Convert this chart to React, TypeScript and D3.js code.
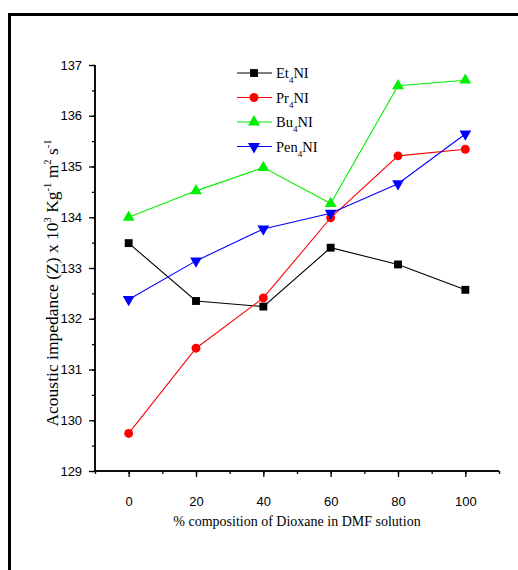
import { useRef, useEffect } from 'react'
import * as d3 from 'd3'

const composition = [0, 20, 40, 60, 80, 100]
const et4ni = [133.49, 132.35, 132.24, 133.4, 133.07, 132.57]
const pr4ni = [129.74, 131.42, 132.41, 133.99, 135.21, 135.34]
const bu4ni = [134.0, 134.52, 134.98, 134.27, 136.59, 136.7]
const pen4ni = [132.38, 133.14, 133.77, 134.08, 134.66, 135.64]
const xTicks = [0, 20, 40, 60, 80, 100]
const yTicks = [129, 130, 131, 132, 133, 134, 135, 136, 137]

const series = [
  { name: 'Et', values: et4ni, color: '#000000', symbol: d3.symbolSquare },
  { name: 'Pr', values: pr4ni, color: '#ff0000', symbol: d3.symbolCircle },
  { name: 'Bu', values: bu4ni, color: '#00f000', symbol: d3.symbolTriangle },
  { name: 'Pen', values: pen4ni, color: '#0000ff', symbol: 'down' },
]

function Chart() {
  const svgRef = useRef<SVGSVGElement>(null)

  useEffect(() => {
    const w = 518
    const h = 570
    const svg = d3.select(svgRef.current).attr('width', w).attr('height', h)
    svg.selectAll('*').remove()

    // page frame
    svg.append('path')
      .attr('d', `M9.5,${h} V14.5 H${w}`)
      .attr('fill', 'none')
      .attr('stroke', '#000')
      .attr('stroke-width', 3)

    const x = d3.scaleLinear().domain([-10, 110]).range([95, 499])
    const y = d3.scaleLinear().domain([129, 137]).range([471, 65])

    const tickFont = '"Liberation Sans", Arial, sans-serif'

    // x axis
    const gx = svg.append('g').attr('transform', 'translate(0,471)')
    gx.call(d3.axisBottom(x).tickValues(d3.range(-10, 111, 10)).tickSize(3).tickFormat(() => ''))
    gx.append('g').call(d3.axisBottom(x).tickValues(xTicks).tickSize(6).tickFormat(d3.format('d')))
    gx.selectAll('.domain').attr('stroke-width', 1.5).attr('d', `M${x(-10)},0H${x(110)}`)
    gx.selectAll('line').attr('stroke-width', 1.3)
    gx.selectAll('text').attr('font-family', tickFont).attr('font-size', 13).attr('dy', '2em').attr('fill', '#000')

    // y axis
    const gy = svg.append('g').attr('transform', 'translate(95,0)')
    gy.call(d3.axisLeft(y).tickValues(d3.range(129, 137.01, 0.5)).tickSize(3).tickFormat(() => ''))
    gy.append('g').call(d3.axisLeft(y).tickValues(yTicks).tickSize(6).tickFormat(d3.format('d')))
    gy.selectAll('.domain').attr('stroke-width', 1.5).attr('d', `M0,${y(129)}V${y(137)}`)
    gy.selectAll('line').attr('stroke-width', 1.3)
    gy.selectAll('text').attr('font-family', tickFont).attr('font-size', 13).attr('dx', '-0.3em').attr('fill', '#000')

    const line = d3.line<number>()
      .x((d, i) => x(composition[i]))
      .y((d) => y(d))

    const markerPath = (s: any, size: number) => {
      if (s === 'down') return d3.symbol(d3.symbolTriangle, size)()
      return d3.symbol(s, size)()
    }

    series.forEach((s) => {
      svg.append('path')
        .datum(s.values)
        .attr('fill', 'none')
        .attr('stroke', s.color)
        .attr('stroke-width', 1.1)
        .attr('d', line)

      svg.selectAll(null)
        .data(s.values)
        .join('path')
        .attr('d', markerPath(s.symbol, s.symbol === d3.symbolCircle ? 62 : s.symbol === d3.symbolSquare ? 62 : 60))
        .attr('transform', (d, i) => `translate(${x(composition[i])},${y(d)})${s.symbol === 'down' ? ' rotate(180)' : ''}`)
        .attr('fill', s.color)
    })

    // legend
    const legend = svg.append('g')
    series.forEach((s, i) => {
      const ly = 73 + i * 24.5
      legend.append('line')
        .attr('x1', 237).attr('x2', 272).attr('y1', ly).attr('y2', ly)
        .attr('stroke', s.color).attr('stroke-width', 1.1)
      legend.append('path')
        .attr('d', markerPath(s.symbol, 62))
        .attr('transform', `translate(254,${ly})${s.symbol === 'down' ? ' rotate(180)' : ''}`)
        .attr('fill', s.color)
      const t = legend.append('text')
        .attr('x', 276).attr('y', ly + 5)
        .attr('font-family', '"Liberation Serif", "Times New Roman", serif')
        .attr('font-size', 14.5)
      t.append('tspan').text(s.name)
      t.append('tspan').text('4').attr('font-size', 9).attr('dy', 5)
      t.append('tspan').text('NI').attr('dy', -5)
    })

    // x label
    svg.append('text')
      .attr('x', 297).attr('y', 526)
      .attr('text-anchor', 'middle')
      .attr('font-family', '"Liberation Serif", "Times New Roman", serif')
      .attr('font-size', 14)
      .text('% composition of Dioxane in DMF solution')

    // y label
    const yl = svg.append('text')
      .attr('transform', 'translate(58,283) rotate(-90)')
      .attr('text-anchor', 'middle')
      .attr('font-family', '"Liberation Serif", "Times New Roman", serif')
      .attr('font-size', 17.5)
    yl.append('tspan').text('Acoustic impedance (Z) x 10')
    yl.append('tspan').text('3').attr('font-size', 10.5).attr('dy', -7)
    yl.append('tspan').text(' Kg').attr('dy', 7)
    yl.append('tspan').text('-1').attr('font-size', 10.5).attr('dy', -7)
    yl.append('tspan').text(' m').attr('dy', 7)
    yl.append('tspan').text('2').attr('font-size', 10.5).attr('dy', -7)
    yl.append('tspan').text(' s').attr('dy', 7)
    yl.append('tspan').text('-1').attr('font-size', 10.5).attr('dy', -7)
  }, [])

  return <svg ref={svgRef} style={{ display: 'block' }}></svg>
}

export default function App() {
  return (
    <div style={{ position: 'absolute', left: 0, top: 0, width: 518, height: 570, background: '#fff' }}>
      <Chart />
    </div>
  )
}
